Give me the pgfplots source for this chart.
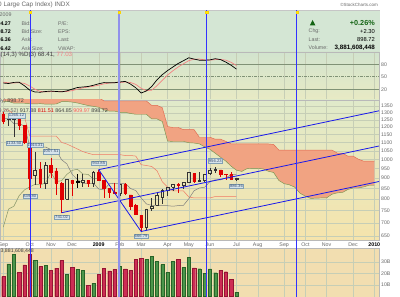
\documentclass[border=0pt]{standalone}
\usepackage{fontspec}
\setmainfont{Liberation Sans}
\usepackage{pgfplots}
\pgfplotsset{compat=1.18}
\newcommand\fs[1]{\fontsize{#1}{#1}\selectfont}
\definecolor{infobg}{RGB}{212,230,212}
\definecolor{stochtop}{RGB}{210,228,206}
\definecolor{stochbot}{RGB}{232,234,196}
\definecolor{pricetop}{RGB}{224,234,202}
\definecolor{pricebot}{RGB}{245,228,172}
\definecolor{volbg}{RGB}{242,222,176}
\definecolor{cloudc}{RGB}{241,163,130}
\definecolor{spanAc}{RGB}{120,150,80}
\definecolor{spanBc}{RGB}{225,105,80}
\definecolor{kijunc}{RGB}{240,120,100}
\definecolor{tenkanc}{RGB}{125,125,125}
\definecolor{chikouc}{RGB}{135,150,105}
\definecolor{candred}{RGB}{225,0,0}
\definecolor{volred}{RGB}{205,45,85}
\definecolor{volreddk}{RGB}{150,20,50}
\definecolor{volgreen}{RGB}{75,150,75}
\definecolor{volgreendk}{RGB}{40,100,40}
\definecolor{gridc}{RGB}{198,206,182}
\definecolor{labgray}{RGB}{105,105,105}
\definecolor{chanblue}{RGB}{25,25,235}
\definecolor{vblue}{RGB}{50,50,255}
\definecolor{vblue2}{RGB}{145,145,235}
\definecolor{annfill}{RGB}{214,228,236}
\definecolor{anndraw}{RGB}{130,160,180}
\definecolor{anntext}{RGB}{60,80,110}
\definecolor{stochline}{RGB}{128,146,118}
\definecolor{stochD}{RGB}{245,130,130}
\definecolor{upgreen}{RGB}{20,100,20}
\pgfplotsset{
 panel/.style={scale only axis, width=379bp, xmin=-0.62, xmax=70.89, anchor=south west,
   xtick={0,5,9,13,18,22,26,31,35,39,44,48,53,57,61,66,70},
   xticklabels={},
   xmajorgrids, ymajorgrids,
   grid style={draw=gridc, line width=0.35bp},
   major tick length=0pt,
   yticklabel pos=right,
   yticklabel style={anchor=west, xshift=2bp, inner sep=0pt, font=\fs{5.2}, text=labgray},
   axis line style={draw=gray!55, line width=0.4bp},
   /pgf/number format/assume math mode=true},
 rfwick/.style={draw=candred, line width=0.6bp},
 rfbody/.style={draw=candred, fill=candred, line width=0.5bp},
 rhwick/.style={draw=candred, line width=0.6bp},
 rhbody/.style={draw=candred, line width=0.6bp},
 bfwick/.style={draw=black, line width=0.6bp},
 bfbody/.style={draw=black, fill=black, line width=0.5bp},
 bhwick/.style={draw=black!80, line width=0.6bp},
 bhbody/.style={draw=black!80, line width=0.6bp},
}
\tikzset{ann/.style={fill=annfill, draw=anndraw, line width=0.3bp, inner sep=0.7bp, font=\fs{4.2}, text=anntext}}
% candle: i, O, H, L, C, style
\newcommand\candle[6]{%
 \pgfmathsetmacro\cxl{#1-0.25}%
 \pgfmathsetmacro\cxr{#1+0.25}%
 \pgfmathsetmacro\ctop{max(#2,#5)}%
 \pgfmathsetmacro\cbot{min(#2,#5)}%
 \edef\candletmp{%
  \noexpand\addplot[forget plot, #6wick] coordinates {(#1,#3) (#1,\ctop)};%
  \noexpand\addplot[forget plot, #6wick] coordinates {(#1,\cbot) (#1,#4)};%
  \noexpand\addplot[forget plot, #6body] coordinates {(\cxl,#2) (\cxr,#2) (\cxr,#5) (\cxl,#5) (\cxl,#2)};%
 }\candletmp}
\begin{document}
\begin{tikzpicture}[x=1bp,y=1bp]
\useasboundingbox (0,0) rectangle (400,297);
\clip (0,0) rectangle (400,297);
\fill[white] (0,0) rectangle (400,297);
% title
\node[anchor=east, font=\fs{6.4}, text=labgray, inner sep=0pt] at (70,292) {\$SPX (S\&P 500 Large Cap Index) INDX};
\node[anchor=east, font=\fs{4.5}, text=labgray, inner sep=0pt] at (378,292.3) {©StockCharts.com};
% info panel
\fill[infobg] (0,245) rectangle (380,287);
\draw[gray!45, line width=0.4bp] (0,287) -- (380,287);
\node[anchor=east, font=\fs{5.3}, text=labgray, inner sep=0pt] at (11.7,282) {Jul 6, 2009};
\node[anchor=east, font=\fs{5.3}\bfseries, inner sep=0pt] at (11,273.7) {894.27};
\node[anchor=east, font=\fs{5.3}\bfseries, inner sep=0pt] at (11,265.3) {898.72};
\node[anchor=east, font=\fs{5.3}\bfseries, inner sep=0pt] at (11,257) {886.36};
\node[anchor=east, font=\fs{5.3}\bfseries, inner sep=0pt] at (11,248.7) {896.42};
\node[anchor=west, font=\fs{5.3}, text=labgray, inner sep=0pt] at (21.5,273.7) {Bid:};
\node[anchor=west, font=\fs{5.3}, text=labgray, inner sep=0pt] at (21.5,265.3) {Bid Size:};
\node[anchor=west, font=\fs{5.3}, text=labgray, inner sep=0pt] at (21.5,257) {Ask:};
\node[anchor=west, font=\fs{5.3}, text=labgray, inner sep=0pt] at (21.5,248.7) {Ask Size:};
\node[anchor=west, font=\fs{5.3}, text=labgray, inner sep=0pt] at (58,273.7) {P/E:};
\node[anchor=west, font=\fs{5.3}, text=labgray, inner sep=0pt] at (58,265.3) {EPS:};
\node[anchor=west, font=\fs{5.3}, text=labgray, inner sep=0pt] at (58,257) {Last:};
\node[anchor=west, font=\fs{5.3}, text=labgray, inner sep=0pt] at (58,248.7) {VWAP:};
\fill[upgreen] (309.8,271.6) -- (315.4,271.6) -- (312.6,277) -- cycle;
\node[anchor=east, font=\fs{7.3}\bfseries, text=upgreen, inner sep=0pt] at (375,274.3) {+0.26\%};
\node[anchor=west, font=\fs{5.3}, text=labgray, inner sep=0pt] at (308.5,265.7) {Chg:};
\node[anchor=east, font=\fs{5.8}, inner sep=0pt] at (375,265.7) {+2.30};
\node[anchor=west, font=\fs{5.3}, text=labgray, inner sep=0pt] at (308.5,257.7) {Last:};
\node[anchor=east, font=\fs{5.8}, inner sep=0pt] at (375,257.7) {898.72};
\node[anchor=west, font=\fs{5.3}, text=labgray, inner sep=0pt] at (308.5,249) {Volume:};
\node[anchor=east, font=\fs{6.3}\bfseries, inner sep=0pt] at (375,249) {3,881,608,448};
% date strip
\fill[white] (0,49) rectangle (379,57);

% ---------------- stochastics
\begin{axis}[panel, at={(0bp,197bp)}, height=48bp, ymin=-5.7, ymax=109.5,
  ytick={20,50,80}, yticklabels={20,50,80}, ymajorgrids=false,
  axis background/.style={top color=stochtop, bottom color=stochbot}]
\addplot[stochline, line width=0.7bp] coordinates {(-0.62,80) (70.89,80)};
\addplot[stochline, line width=0.7bp] coordinates {(-0.62,20) (70.89,20)};
\addplot[stochline, line width=0.6bp, dash pattern=on 3bp off 1.2bp on 0.8bp off 1.2bp] coordinates {(-0.62,50) (70.89,50)};
\addplot[stochD, line width=0.7bp] coordinates {(0,37) (1,35.5) (2,35.1) (3,35.8) (4,34) (5,27.8) (6,19.9) (7,14.8) (8,13.7) (9,14.5) (10,15) (11,14.7) (12,14.9) (13,16.8) (14,20.3) (15,23.4) (16,25.5) (17,27.3) (18,29.8) (19,33) (20,35) (21,35.8) (22,36.3) (23,37.4) (24,36.3) (25,31.7) (26,22.4) (27,16.9) (28,17.9) (29,28.5) (30,41.5) (31,54.3) (32,64.5) (33,73.5) (34,81.4) (35,88.7) (36,92.2) (37,92.6) (38,90.6) (39,90) (40,91.2) (41,91.7) (42,89.9) (43,84.6) (44,77.03)};
\addplot[black, line width=0.7bp] coordinates {(0,35) (1,33.9) (2,36.5) (3,37) (4,28.4) (5,17.9) (6,13.5) (7,13) (8,14.7) (9,15.7) (10,14.7) (11,13.8) (12,16.2) (13,20.4) (14,24.3) (15,25.5) (16,26.7) (17,29.6) (18,33.2) (19,36.1) (20,35.6) (21,35.8) (22,37.5) (23,38.9) (24,32.6) (25,23.6) (26,11) (27,16) (28,26.6) (29,42.8) (30,55) (31,65) (32,73.5) (33,82) (34,88.6) (35,95.6) (36,92.5) (37,89.8) (38,89.6) (39,90.6) (40,93.4) (41,91.2) (42,85.2) (43,77.5) (44,68.41)};
\end{axis}
\node[anchor=west, font=\fs{6.2}, inner sep=0pt] at (-3.6,242.2) {\textcolor{darkgray}{K(14,3) \%D(3) 68.41,} \textcolor{stochD}{77.03}};

% ---------------- price
\begin{axis}[panel, at={(0bp,57bp)}, height=140bp, ymode=log, ymin=635.7, ymax=1396.3,
  ytick={650,700,750,800,850,900,950,1000,1050,1100,1150,1200,1250,1300,1350},
  yticklabels={650,700,750,800,850,900,950,1000,1050,1100,1150,1200,1250,1300,1350},
  xticklabels={Sep,Oct,Nov,Dec,\textbf{\textcolor{black}{2009}},Feb,Mar,Apr,May,Jun,Jul,Aug,Sep,Oct,Nov,Dec,\textbf{\textcolor{black}{2010}}},
  xticklabel style={anchor=base, yshift=-6.2bp, inner sep=0pt, font=\fs{5.3}, text=labgray},
  axis background/.style={top color=pricetop, bottom color=pricebot}]
% cloud polygon: span A forward, span B back
\addplot[fill=cloudc, draw=none, forget plot] coordinates {(0,1384) (1,1384) (2,1371.5) (3,1371.5) (4,1371) (5,1366.8) (6,1365.8) (7,1367.8) (8,1364) (9,1364) (10,1365.5) (11,1383) (12,1383.8) (13,1380) (14,1373) (15,1362.8) (16,1353.6) (17,1347.3) (18,1340.6) (19,1320.3) (20,1311.7) (21,1311.2) (22,1302.7) (23,1302.7) (24,1294.2) (25,1288.7) (26,1288.7) (27,1288.7) (28,1255) (29,1255) (30,1237.3) (31,1108.3) (32,1105.7) (33,1105.7) (34,1105.7) (35,1098.5) (36,1096.2) (37,1091) (38,1073) (39,1058) (40,1035) (41,1012) (42,990) (43,962) (44,941) (45,934.7) (46,949.5) (47,950.5) (48,950.5) (49,948) (50,935.5) (51,929) (52,888) (53,872.3) (54,866.7) (55,855.2) (56,826.6) (57,813.3) (58,802.9) (59,804.2) (60,805) (61,805.5) (62,822) (63,828.4) (64,830.3) (65,844.2) (66,851.5) (67,851.5) (68,856.6) (69,864.6) (70,864.6)
 (70,990) (69,990) (68,990) (67,1000.9) (66,1018.4) (65,1018.4) (64,1035.4) (63,1036.4) (62,1053.5) (52,1053.5) (51,1087.4) (50,1090.6) (43,1090.6) (42,1106.4) (41,1120) (40,1120) (39,1132.3) (37,1132.3) (36,1181.7) (34,1181.7) (33,1196.3) (32,1196.3) (31,1202.3) (30,1337) (29,1354.8) (28,1354.8) (27,1388.3) (19,1388.3) (18,1416.5) (2,1416.5) (1,1423) (0,1423) (0,1384)};
\addplot[spanAc, line width=0.45bp] coordinates {(0,1384) (1,1384) (2,1371.5) (3,1371.5) (4,1371) (5,1366.8) (6,1365.8) (7,1367.8) (8,1364) (9,1364) (10,1365.5) (11,1383) (12,1383.8) (13,1380) (14,1373) (15,1362.8) (16,1353.6) (17,1347.3) (18,1340.6) (19,1320.3) (20,1311.7) (21,1311.2) (22,1302.7) (23,1302.7) (24,1294.2) (25,1288.7) (26,1288.7) (27,1288.7) (28,1255) (29,1255) (30,1237.3) (31,1108.3) (32,1105.7) (33,1105.7) (34,1105.7) (35,1098.5) (36,1096.2) (37,1091) (38,1073) (39,1058) (40,1035) (41,1012) (42,990) (43,962) (44,941) (45,934.7) (46,949.5) (47,950.5) (48,950.5) (49,948) (50,935.5) (51,929) (52,888) (53,872.3) (54,866.7) (55,855.2) (56,826.6) (57,813.3) (58,802.9) (59,804.2) (60,805) (61,805.5) (62,822) (63,828.4) (64,830.3) (65,844.2) (66,851.5) (67,851.5) (68,856.6) (69,864.6) (70,864.6)};
\addplot[spanBc, line width=0.45bp] coordinates {(0,1423) (1,1423) (2,1416.5) (18,1416.5) (19,1388.3) (27,1388.3) (28,1354.8) (29,1354.8) (30,1337) (31,1202.3) (32,1196.3) (33,1196.3) (34,1181.7) (35,1181.7) (36,1181.7) (37,1132.3) (38,1132.3) (39,1132.3) (40,1120) (41,1120) (42,1106.4) (43,1090.6) (50,1090.6) (51,1087.4) (52,1053.5) (62,1053.5) (63,1036.4) (64,1035.4) (65,1018.4) (66,1018.4) (67,1000.9) (68,990) (69,990) (70,990)};
% kijun
\addplot[kijunc, line width=0.5bp] coordinates {(0,1320.3) (1,1320.3) (2,1286.9) (3,1286.9) (4,1269) (5,1140) (10,1140) (11,1100) (12,1090) (13,1075) (14,1060) (15,1045) (16,1035) (17,1027) (22,1027) (23,1022) (24,1022) (25,1018.8) (26,970.6) (27,966) (28,961) (29,938) (30,882.2) (31,855.6) (32,837.2) (34,837.2) (35,809.4) (36,805.3) (39,805.3) (40,811.5) (44,811.5)};
% tenkan
\addplot[tenkanc, line width=0.5bp] coordinates {(0,1257) (1,1257) (2,1223) (3,1223) (4,1205.5) (5,1076.5) (6,1071.4) (7,1071.4) (8,1071.4) (9,1057) (10,1052.4) (11,998) (12,975) (13,919.3) (14,892.7) (15,874.3) (16,874.3) (17,874.3) (18,846.5) (19,842.4) (20,871.9) (21,873.9) (22,873.9) (23,873.9) (24,849) (25,839.2) (26,805.3) (27,778.6) (28,772.3) (29,772.3) (30,770.9) (31,770.9) (32,768.6) (33,771.2) (34,772.7) (35,801.5) (36,838.6) (37,851.5) (38,855.2) (39,883.1) (40,891.5) (41,891.5) (42,901.6) (43,917.6) (44,917.6)};
% chikou
\addplot[chikouc, line width=0.5bp] coordinates {(0,683.4) (1,756.6) (2,768.5) (3,815.9) (4,842.5) (5,856.6) (6,869.6) (7,866.2) (8,877.5) (9,929.2) (10,882.9) (11,887.0) (12,919.1) (13,940.1) (14,946.2) (15,921.2) (16,918.9) (17,896.4) (18,898.7)};
% candles
\candle{0}{1287.8}{1303.0}{1217.2}{1242.3}{rf}
\candle{1}{1249.5}{1274.4}{1203.4}{1251.7}{bh}
\candle{2}{1250.9}{1265.1}{1133.5}{1255.1}{bh}
\candle{3}{1255.4}{1255.4}{1179.0}{1213.3}{rf}
\candle{4}{1209.1}{1209.1}{1098.0}{1099.2}{rf}
\candle{5}{1097.6}{1097.6}{839.8}{899.2}{rf}
\candle{6}{912.8}{1044.3}{865.8}{940.6}{bh}
\candle{7}{943.5}{985.4}{852.9}{876.8}{rf}
\candle{8}{874.3}{984.4}{845.3}{968.8}{bh}
\candle{9}{968.7}{1007.5}{899.7}{931.0}{rf}
\candle{10}{936.8}{952.0}{818.7}{873.3}{rf}
\candle{11}{873.2}{882.3}{741.0}{800.0}{rf}
\candle{12}{801.2}{896.8}{795.0}{896.2}{bh}
\candle{13}{888.6}{888.6}{815.7}{876.1}{rf}
\candle{14}{882.7}{918.6}{851.4}{879.7}{bf}
\candle{15}{881.1}{918.9}{857.1}{887.9}{bh}
\candle{16}{887.2}{887.4}{857.1}{872.8}{rf}
\candle{17}{872.4}{934.7}{857.3}{931.8}{bh}
\candle{18}{929.2}{943.9}{888.3}{890.4}{rf}
\candle{19}{890.4}{890.4}{804.3}{850.1}{rf}
\candle{20}{849.6}{849.6}{804.0}{832.0}{rf}
\candle{21}{832.5}{877.9}{821.7}{825.9}{rf}
\candle{22}{825.4}{870.8}{812.8}{868.6}{bh}
\candle{23}{868.2}{875.0}{818.4}{826.8}{rf}
\candle{24}{818.6}{818.6}{754.3}{770.1}{rf}
\candle{25}{773.7}{780.1}{734.5}{735.1}{rf}
\candle{26}{729.6}{729.6}{666.8}{683.4}{rf}
\candle{27}{683.4}{758.3}{672.9}{756.6}{bh}
\candle{28}{758.8}{803.0}{747.0}{768.5}{bh}
\candle{29}{772.6}{833.0}{772.6}{815.9}{bh}
\candle{30}{809.1}{845.6}{779.8}{842.5}{bh}
\candle{31}{839.8}{856.9}{814.5}{856.6}{bh}
\candle{32}{856.9}{870.4}{836.0}{869.6}{bh}
\candle{33}{868.3}{875.6}{826.8}{866.2}{rf}
\candle{34}{866.2}{878.6}{847.0}{877.5}{bh}
\candle{35}{879.2}{930.2}{878.9}{929.2}{bh}
\candle{36}{923.0}{923.0}{878.9}{882.9}{rf}
\candle{37}{886.1}{930.5}{882.0}{887.0}{bh}
\candle{38}{887.0}{923.3}{881.0}{919.1}{bh}
\candle{39}{923.3}{951.7}{923.0}{940.1}{bh}
\candle{40}{940.4}{956.2}{927.0}{946.2}{bh}
\candle{41}{942.5}{942.5}{903.8}{921.2}{rf}
\candle{42}{918.1}{921.4}{888.9}{918.9}{rh}
\candle{43}{919.9}{930.2}{896.0}{896.4}{rf}
\candle{44}{894.3}{898.7}{886.4}{898.7}{bh}
% channel lines
\addplot[chanblue, line width=0.8bp] coordinates {(18,943.85) (70.89,1314)};
\addplot[chanblue, line width=0.8bp] coordinates {(11,741.02) (70.89,1078)};
\addplot[chanblue, line width=0.8bp] coordinates {(26,666.79) (70.89,883)};
\addplot[chanblue, line width=0.8bp] coordinates {(18,943.85) (26,666.79)};
% annotations
\node[ann, yshift=2bp] at (axis cs:2.5,1265.12) {1265.12};
\node[ann, yshift=-5.8bp] at (axis cs:2,1133.5) {1133.50};
\node[ann, yshift=6.6bp] at (axis cs:6,1044.31) {1044.31};
\node[ann, yshift=6.5bp] at (axis cs:9,1007.51) {1007.51};
\node[ann, yshift=-5.5bp] at (axis cs:5,839.8) {839.80};
\node[ann, yshift=-4.6bp] at (axis cs:11,741.02) {741.02};
\node[ann, yshift=6.6bp] at (axis cs:18,943.85) {943.85};
\node[ann, yshift=-4.6bp] at (axis cs:26,666.79) {666.79};
\node[ann, yshift=6.7bp] at (axis cs:40,956.23) {956.23};
\node[ann, yshift=-5.2bp] at (axis cs:44,886.36) {886.36};
\end{axis}
\node[anchor=east, font=\fs{5.4}, text=labgray, inner sep=0pt] at (24,196) {\$SPX (Weekly) \textcolor{darkgray}{898.72}};
\node[anchor=east, font=\fs{5.4}, inner sep=0pt] at (108,186) {\textcolor{labgray}{Ichimoku Cloud (9,26,52)} \textcolor{darkgray}{917.88} \textcolor{red!85!black}{811.51} \textcolor{darkgray}{864.85} \textcolor{red!65}{909.97} \textcolor{darkgray}{898.72}};
\draw[gray!50, line width=0.4bp] (0,49) -- (379,49);

% ---------------- volume
\begin{axis}[panel, at={(0bp,0bp)}, height=49bp, ymin=-0.43, ymax=42.2,
  ytick={10,20,30}, yticklabels={10B,20B,30B},
  axis background/.style={fill=volbg}]
\addplot[ybar, bar width=3.2bp, bar shift=0pt, fill=volred, draw=volreddk, line width=0.35bp] coordinates {(0,17.4) (3,21.1) (4,27.5) (5,36.5) (7,26.0) (9,22.6) (10,24.6) (11,31.3) (13,25.5) (16,9.6) (18,19.4) (19,24.6) (20,22.3) (21,23.5) (23,24.1) (24,22.6) (25,32.2) (26,33.3) (33,32.2) (36,25.0) (41,23.0) (42,21.6) (43,15.0)};
\addplot[ybar, bar width=3.2bp, bar shift=0pt, fill=volgreen, draw=volgreendk, line width=0.35bp] coordinates {(1,28.4) (2,36.5) (6,31.3) (8,27.0) (12,19.4) (14,23.5) (15,22.9) (17,11.6) (22,26.4) (27,32.2) (28,35.0) (29,30.4) (30,27.8) (31,21.1) (32,30.7) (34,25.2) (35,34.2) (37,24.2) (38,20.3) (39,24.0) (40,20.7) (44,3.9)};
\end{axis}
\node[anchor=east, font=\fs{5.2}, text=darkgray, inner sep=0pt] at (34,45.5) {3,881,608,448};

% ---------------- cycle lines overlay
\begin{axis}[at={(0bp,0bp)}, anchor=south west, scale only axis, width=379bp, height=286.5bp,
  xmin=-0.62, xmax=70.89, ymin=0, ymax=1, axis lines=none, clip=false]
\addplot[vblue, line width=0.9bp] coordinates {(5.04,0) (5.04,1)};
\addplot[vblue2, line width=1.4bp] coordinates {(21.83,0) (21.83,1)};
\addplot[vblue, line width=0.9bp] coordinates {(38.40,0) (38.40,1)};
\addplot[vblue, line width=0.9bp] coordinates {(55.4,0) (55.4,1)};
\addplot[only marks, mark=square*, mark size=1.2bp, mark options={fill=yellow, draw=yellow!70!orange, line width=0.3bp}] coordinates {(5.04,0.995) (21.83,0.995) (38.40,0.995) (55.4,0.995)};
\end{axis}
\end{tikzpicture}
\end{document}
